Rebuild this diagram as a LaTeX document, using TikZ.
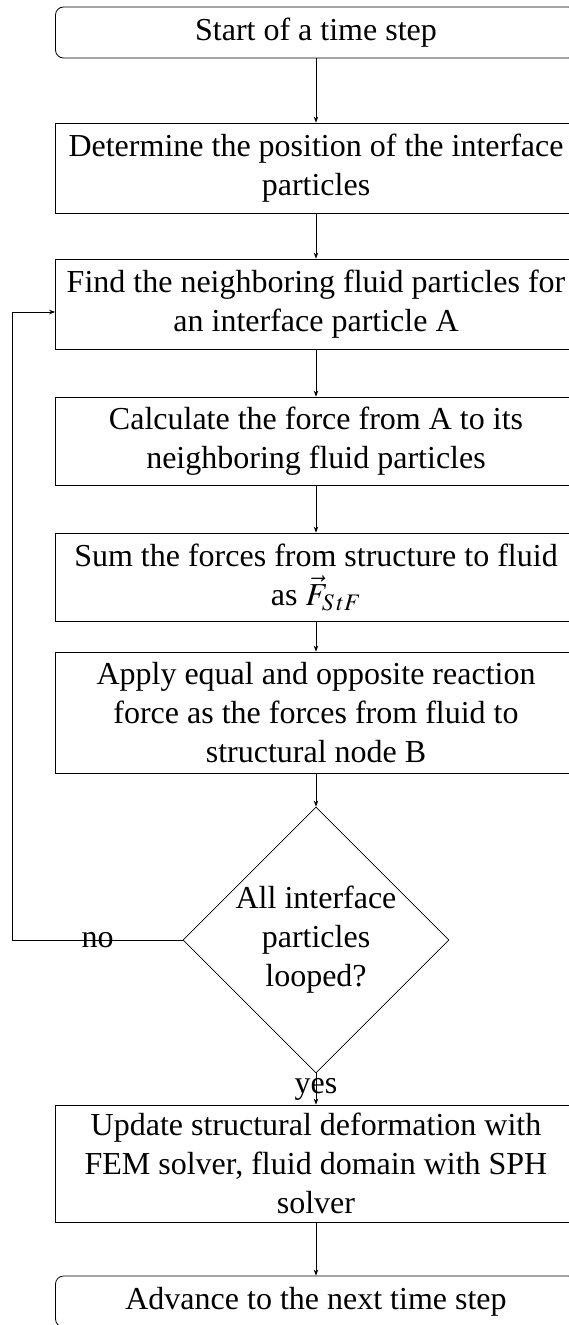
\documentclass[tikz,border=0pt]{standalone}
\usepackage{mathptmx}
\usepackage[no-math]{fontspec}
\setmainfont{Liberation Serif}
\usetikzlibrary{shapes.geometric,arrows.meta,calc}
\newcommand\fs{\fontsize{32}{39}\selectfont}
\begin{document}
\begin{tikzpicture}[x=1pt,y=-1pt,
  box/.style={draw, line width=0.8pt, minimum width=521pt, align=center, font=\fs, inner sep=0pt},
  rbox/.style={box, rounded corners=8pt},
  arr/.style={-{Stealth[length=6pt,width=4.5pt]}, line width=0.8pt},
  lbl/.style={font=\fs, inner sep=0pt}]
\useasboundingbox (0,0) rectangle (568,1325);
\node[rbox, minimum height=51pt] (start) at (316,32.5) {Start of a time step};
\node[box, minimum height=90pt] (det) at (316,168) {Determine the position of the interface\\particles};
\node[box, minimum height=90pt] (find) at (316,304) {Find the neighboring fluid particles for\\an interface particle A};
\node[box, minimum height=88pt] (calc) at (316,441) {Calculate the force from A to its\\neighboring fluid particles};
\node[box, minimum height=88pt] (sum) at (316,577) {Sum the forces from structure to fluid\\as $\vec{F}_{S\,tF}$};
\node[box, minimum height=121pt] (apply) at (316,712.5) {Apply equal and opposite reaction\\force as the forces from fluid to\\structural node B};
\node[diamond, draw, line width=0.8pt, minimum width=266pt, minimum height=266pt, inner sep=0pt] (dec) at (316,940) {};
\node[align=center, font=\fs, inner sep=0pt] (dectext) at (dec.center) {All interface\\particles\\looped?};
\node[box, minimum height=117pt] (upd) at (316,1163.5) {Update structural deformation with\\FEM solver, fluid domain with SPH\\solver};
\node[rbox, minimum height=51pt] (adv) at (316,1301.5) {Advance to the next time step};
\draw[arr] (start) -- (det);
\draw[arr] (det) -- (find);
\draw[arr] (find) -- (calc);
\draw[arr] (calc) -- (sum);
\draw[arr] (sum) -- (apply);
\draw[arr] (apply) -- (dec);
\draw[arr] (dec.west) -- node[lbl]{no} ++(-170,0) |- ($(find.west)+(0,8)$);
\draw[arr] (dec.south) -- node[lbl]{yes} (upd.north);
\draw[arr] (upd) -- (adv);
\end{tikzpicture}
\end{document}
